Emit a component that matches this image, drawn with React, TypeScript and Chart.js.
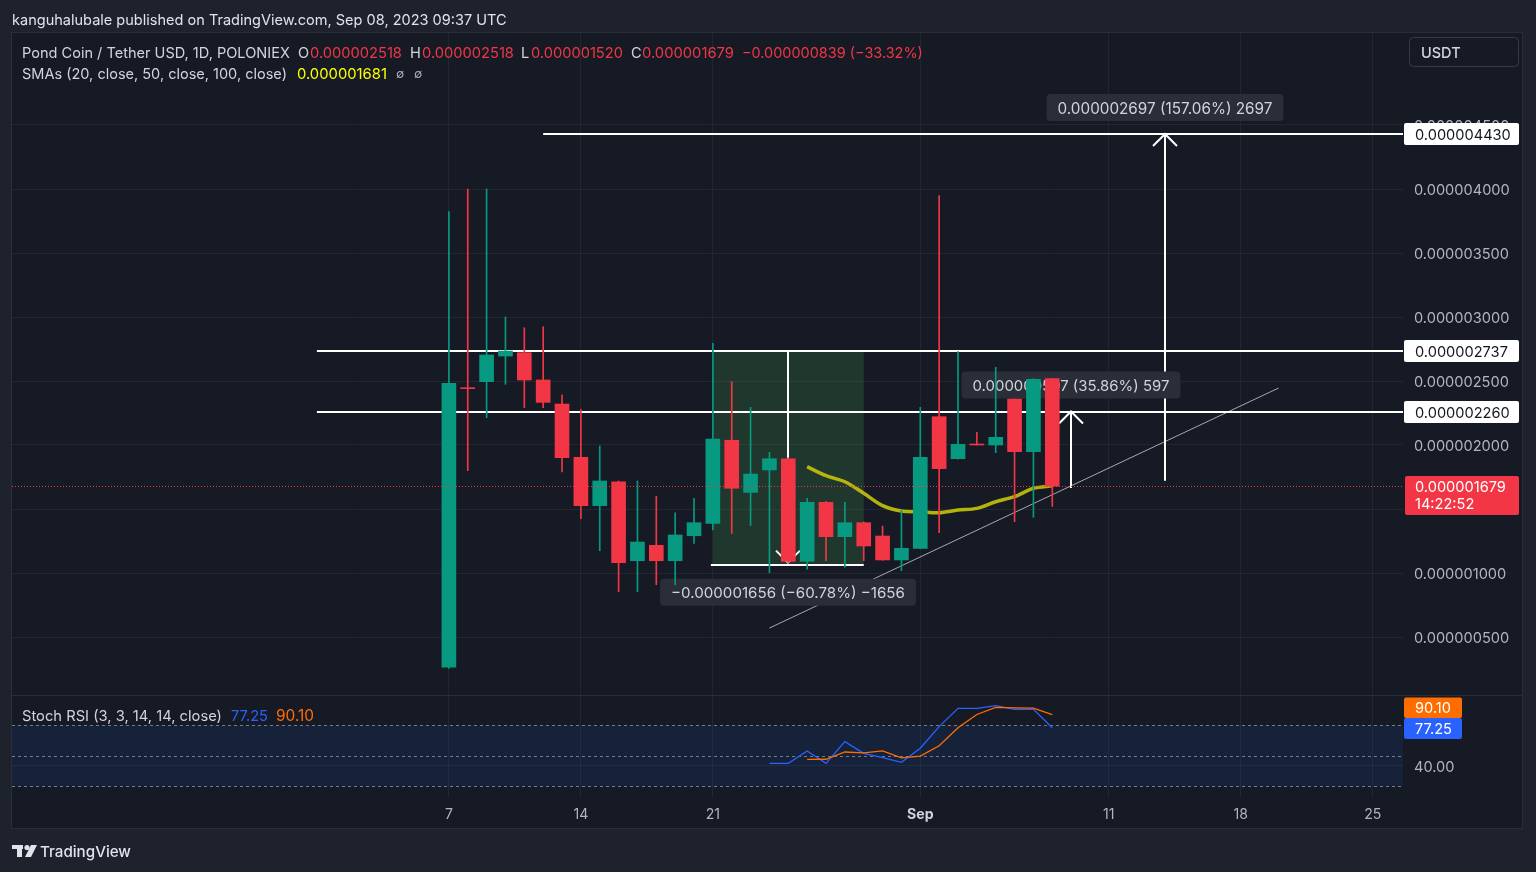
import React, { useEffect, useRef } from "react";
import { Chart, registerables } from "chart.js";

Chart.register(...registerables);

const FONT = "Inter, 'Noto Sans', 'DejaVu Sans', sans-serif";

// Daily candles: index 0 = 7 Aug 2023 ... index 32 = 8 Sep 2023. Prices in 1e-6 USDT.
const opens = [0.265, 2.445, 2.495, 2.695, 2.721, 2.508, 2.32, 1.904, 1.526, 1.713, 1.096, 1.216, 1.096, 1.291, 1.388, 2.037, 1.63, 1.805, 1.891, 1.091, 1.552, 1.284, 1.393, 1.289, 1.102, 1.193, 2.221, 1.893, 2.005, 2.0, 2.359, 1.948, 2.518];
const highs = [3.823, 4.0, 4.0, 3.0, 2.916, 2.924, 2.391, 2.279, 1.992, 1.719, 1.719, 1.599, 1.471, 1.584, 2.794, 2.495, 2.294, 1.943, 1.9, 1.584, 1.56, 1.552, 1.4, 1.367, 1.492, 2.294, 3.948, 2.729, 2.099, 2.607, 2.36, 2.518, 2.518];
const lows = [0.255, 1.8, 2.213, 2.474, 2.291, 2.291, 1.789, 1.424, 1.174, 0.854, 0.854, 0.909, 0.909, 1.232, 1.336, 1.31, 1.37, 1.002, 1.08, 1.029, 1.096, 1.045, 1.096, 1.1, 1.018, 1.19, 1.315, 1.89, 2.0, 1.94, 1.401, 1.435, 1.52];
const closes = [2.482, 2.44, 2.703, 2.734, 2.508, 2.333, 1.901, 1.526, 1.719, 1.081, 1.242, 1.096, 1.297, 1.393, 2.047, 1.662, 1.773, 1.893, 1.091, 1.552, 1.284, 1.393, 1.211, 1.102, 1.193, 1.904, 1.815, 2.005, 2.0, 2.06, 1.948, 2.513, 1.679];

// SMA 20 (starts at index 19 = 26 Aug)
const smaStart = 19;
const sma20 = [1.831, 1.76, 1.713, 1.623, 1.526, 1.484, 1.478, 1.471, 1.492, 1.505, 1.557, 1.596, 1.662, 1.681];

// Stoch RSI %K (starts index 17) and %D (starts index 19)
const stochKStart = 17;
const stochK = [42.5, 42.5, 54.6, 42.5, 63.7, 52.3, 48.0, 43.5, 57.2, 78.4, 96.3, 96.3, 98.9, 95.3, 95.3, 77.25];
const stochDStart = 19;
const stochD = [46.4, 46.5, 53.6, 52.8, 54.7, 47.9, 49.6, 59.7, 77.3, 90.3, 97.2, 96.8, 96.5, 90.1];

// Axis ticks
const timeTickDays = [0, 7, 14, 25, 35, 42, 49];
const timeTickLabels = ["7", "14", "21", "Sep", "11", "18", "25"];
const priceTicks = [0.5, 1, 1.5, 2, 2.5, 3, 3.5, 4, 4.5];
const stochTicks = [40];
const stochBands = [80, 50, 20];

// Drawings
const levelPrices = [4.43, 2.737, 2.26];
const levelStartDay = [5, -7, -7];
const rangeBoxDays = [14, 22];
const rangeBoxPrices = [2.737, 1.06];
const measureDay = [18, 33, 38];
const measureFrom = [2.737, 1.665, 1.72];
const measureTo = [1.081, 2.262, 4.43];
const measureLabels = ["−0.000001656 (−60.78%) −1656", "0.000000597 (35.86%) 597", "0.000002697 (157.06%) 2697"];
const trendDays = [17, 44];
const trendPrices = [0.57, 2.445];
const lastPrice = 1.679;
const countdown = "14:22:52";

// Texts
const headerTitle = "kanguhalubale published on TradingView.com, Sep 08, 2023 09:37 UTC";
const seriesName = "Pond Coin / Tether USD, 1D, POLONIEX";
const ohlcLetters = ["O", "H", "L", "C"];
const ohlcValues = ["0.000002518", "0.000002518", "0.000001520", "0.000001679"];
const changeText = "−0.000000839 (−33.32%)";
const smaTitle = "SMAs (20, close, 50, close, 100, close)";
const smaValue = "0.000001681";
const stochTitle = "Stoch RSI (3, 3, 14, 14, close)";
const stochValues = ["77.25", "90.10"];

const W = 1536;
const H = 872;
const OUTER = "#1e222d";
const BG = "#161a25";
const GRID = "rgba(42,46,57,0.6)";
const TEXT = "#d1d4dc";
const AXIS_TEXT = "#b2b5be";
const UP = "#089981";
const DOWN = "#f23645";
const BLUE = "#2962ff";
const ORANGE = "#ff6d00";

const X_MIN = -23.17;
const X_MAX = 50.6;
const P_MIN = 0.046875;
const P_MAX = 5.21875;
const S_MIN = 9.55;
const S_MAX = 109.35;

const TY = 1.5; // vertical nudge for middle-baseline text

const fmt = (p: number) => (p / 1e6).toFixed(9);

function fitFont(ctx: CanvasRenderingContext2D, s: string, width: number, weight = "400") {
  ctx.font = `${weight} 100px ${FONT}`;
  const m = ctx.measureText(s).width || 1;
  const size = Math.max(8, Math.min(24, (100 * width) / m));
  ctx.font = `${weight} ${size.toFixed(2)}px ${FONT}`;
  return size;
}

function drawText(
  ctx: CanvasRenderingContext2D,
  s: string,
  x: number,
  y: number,
  color: string,
  opts: { width?: number; size?: number; weight?: string; align?: CanvasTextAlign } = {}
) {
  const weight = opts.weight || "400";
  if (opts.width) fitFont(ctx, s, opts.width, weight);
  else ctx.font = `${weight} ${opts.size || 14}px ${FONT}`;
  ctx.fillStyle = color;
  ctx.textAlign = opts.align || "left";
  ctx.textBaseline = "middle";
  ctx.fillText(s, x, y + TY);
}

function rr(ctx: CanvasRenderingContext2D, x: number, y: number, w: number, h: number, r: number) {
  ctx.beginPath();
  (ctx as any).roundRect(x, y, w, h, r);
}

export default function App() {
  const ref = useRef<HTMLCanvasElement>(null);

  useEffect(() => {
    const canvas = ref.current!;
    const mctx = document.createElement("canvas").getContext("2d")!;
    mctx.font = `400 100px ${FONT}`;
    const tickSize = Math.round(((100 * 96) / mctx.measureText("0.000004000").width) * 10) / 10;

    const idx = opens.map((_, i) => i);
    const colors = opens.map((o, i) => (closes[i] >= o ? UP : DOWN));

    const overlay = {
      id: "tvOverlay",
      beforeDraw(chart: any) {
        const { ctx, chartArea, scales } = chart;
        ctx.save();
        ctx.fillStyle = OUTER;
        ctx.fillRect(0, 0, W, H);
        const fl = chartArea.left;
        const fr = scales.y.right;
        const ft = chartArea.top;
        const fb = scales.x.bottom;
        ctx.fillStyle = BG;
        ctx.fillRect(fl, ft, fr - fl, fb - ft);
        ctx.strokeStyle = "#2a2e39";
        ctx.lineWidth = 1;
        ctx.strokeRect(fl - 0.5, ft - 0.5, fr - fl + 1, fb - ft + 1);
        ctx.beginPath();
        ctx.moveTo(fl, Math.round(scales.y.bottom) + 0.5);
        ctx.lineTo(fr, Math.round(scales.y.bottom) + 0.5);
        ctx.stroke();
        ctx.restore();
      },
      beforeDatasetsDraw(chart: any) {
        const { ctx, chartArea, scales } = chart;
        const sx = (d: number) => scales.x.getPixelForValue(d);
        const sy = (p: number) => scales.y.getPixelForValue(p);
        const s2 = (v: number) => scales.y2.getPixelForValue(v);
        ctx.save();

        // Stoch RSI band
        ctx.fillStyle = "rgba(33,110,243,0.1)";
        ctx.fillRect(chartArea.left, s2(stochBands[0]), chartArea.right - chartArea.left, s2(stochBands[2]) - s2(stochBands[0]));
        ctx.strokeStyle = "#787b86";
        ctx.lineWidth = 1;
        ctx.setLineDash([3, 3]);
        stochBands.forEach((b) => {
          const y = Math.round(s2(b)) + 0.5;
          ctx.beginPath();
          ctx.moveTo(chartArea.left, y);
          ctx.lineTo(chartArea.right, y);
          ctx.stroke();
        });
        ctx.setLineDash([]);

        // Clip to price pane
        ctx.beginPath();
        ctx.rect(chartArea.left, scales.y.top, chartArea.right - chartArea.left, scales.y.bottom - scales.y.top);
        ctx.clip();

        // Range box fill
        const bx0 = sx(rangeBoxDays[0]);
        const bx1 = sx(rangeBoxDays[1]);
        const by0 = sy(rangeBoxPrices[0]);
        const by1 = sy(rangeBoxPrices[1]);
        ctx.fillStyle = "rgba(76,175,80,0.2)";
        ctx.fillRect(bx0, by0, bx1 - bx0, by1 - by0);

        // Trend line
        ctx.strokeStyle = "rgba(190,193,202,0.85)";
        ctx.lineWidth = 1;
        ctx.beginPath();
        ctx.moveTo(sx(trendDays[0]), sy(trendPrices[0]));
        ctx.lineTo(sx(trendDays[1]), sy(trendPrices[1]));
        ctx.stroke();

        // Horizontal levels
        ctx.strokeStyle = "#ffffff";
        ctx.lineWidth = 2;
        levelPrices.forEach((p, i) => {
          const y = Math.round(sy(p));
          ctx.beginPath();
          ctx.moveTo(sx(levelStartDay[i]), y);
          ctx.lineTo(chartArea.right, y);
          ctx.stroke();
        });
        // range box edges
        [by0, by1].forEach((y) => {
          ctx.beginPath();
          ctx.moveTo(bx0 - 2, Math.round(y));
          ctx.lineTo(bx1, Math.round(y));
          ctx.stroke();
        });

        // Measure arrows + labels
        measureDay.forEach((d, i) => {
          const x = Math.round(sx(d));
          const yA = sy(measureFrom[i]);
          const yB = sy(measureTo[i]);
          const up = yB < yA;
          ctx.strokeStyle = "#ffffff";
          ctx.lineWidth = 2;
          ctx.beginPath();
          ctx.moveTo(x, yA);
          ctx.lineTo(x, yB);
          ctx.stroke();
          const dir = up ? 1 : -1;
          ctx.beginPath();
          ctx.moveTo(x - 12, yB + dir * 12);
          ctx.lineTo(x, yB);
          ctx.lineTo(x + 12, yB + dir * 12);
          ctx.stroke();
        });
        const labelWidths = [234, 197, 215];
        measureDay.forEach((d, i) => {
          const x = Math.round(sx(d));
          const yA = sy(measureFrom[i]);
          const yB = sy(measureTo[i]);
          const up = yB < yA;
          fitFont(ctx, measureLabels[i], labelWidths[i]);
          const tw = ctx.measureText(measureLabels[i]).width;
          const bw = tw + 22;
          const h = 27;
          const top = up ? yB - 13 - h : yB + 16;
          ctx.fillStyle = "#2a2e39";
          rr(ctx, x - bw / 2, top, bw, h, 4);
          ctx.fill();
          ctx.fillStyle = TEXT;
          ctx.textAlign = "center";
          ctx.textBaseline = "middle";
          ctx.fillText(measureLabels[i], x, top + h / 2 + TY);
        });
        ctx.restore();
      },
      afterDatasetsDraw(chart: any) {
        const { ctx, chartArea, scales } = chart;
        ctx.save();
        const y = Math.round(scales.y.getPixelForValue(lastPrice)) + 0.5;
        ctx.strokeStyle = DOWN;
        ctx.lineWidth = 1;
        ctx.setLineDash([1, 2]);
        ctx.beginPath();
        ctx.moveTo(chartArea.left, y);
        ctx.lineTo(chartArea.right, y);
        ctx.stroke();
        ctx.restore();
      },
      afterDraw(chart: any) {
        const { ctx, scales } = chart;
        const ys = scales.y;
        const y2 = scales.y2;
        const axL = ys.left;
        ctx.save();

        // Level labels on price axis
        levelPrices.forEach((p) => {
          const y = Math.round(ys.getPixelForValue(p));
          ctx.fillStyle = "#ffffff";
          rr(ctx, axL + 1, y - 11, 115, 22, 2);
          ctx.fill();
          drawText(ctx, fmt(p), axL + 12, y, "#131722", { size: tickSize });
        });
        // Last price label
        const yl = Math.round(ys.getPixelForValue(lastPrice));
        ctx.fillStyle = DOWN;
        rr(ctx, axL + 2, yl - 10, 114, 39, 2);
        ctx.fill();
        drawText(ctx, fmt(lastPrice), axL + 12, yl + 0.5, "#ffffff", { size: tickSize });
        drawText(ctx, countdown, axL + 12, yl + 17.5, "#ffffff", { size: tickSize });

        // Stoch labels
        const yk = Math.round(y2.getPixelForValue(stochK[stochK.length - 1]));
        const bTop = yk - 10;
        ctx.fillStyle = BLUE;
        rr(ctx, axL + 1, bTop, 58, 21, 2);
        ctx.fill();
        drawText(ctx, stochValues[0], axL + 12, bTop + 10, "#ffffff", { size: tickSize });
        ctx.fillStyle = ORANGE;
        rr(ctx, axL + 1, bTop - 20.5, 58, 20.5, 2);
        ctx.fill();
        drawText(ctx, stochValues[1], axL + 12, bTop - 10.5, "#ffffff", { size: tickSize });

        // USDT box
        ctx.strokeStyle = "#363a45";
        ctx.lineWidth = 1;
        rr(ctx, axL + 6.5, 37.5, 109, 29, 4);
        ctx.stroke();
        drawText(ctx, "USDT", axL + 18, 52.5, TEXT, { size: 14.5, weight: "500" });

        // Header
        drawText(ctx, headerTitle, 12, 19, "#e0e3eb", { width: 495 });
        // Legend line 1
        const nameSize = fitFont(ctx, seriesName, 268);
        drawText(ctx, seriesName, 22, 52, TEXT, { width: 268 });
        const lx = [298, 410, 521, 631];
        const vx = [310, 422, 531, 642];
        ohlcLetters.forEach((l, i) => {
          drawText(ctx, l, lx[i], 52, TEXT, { size: nameSize });
          drawText(ctx, ohlcValues[i], vx[i], 52, DOWN, { width: 92 });
        });
        drawText(ctx, changeText, 742, 52, DOWN, { width: 181 });
        // Legend line 2
        drawText(ctx, smaTitle, 22, 73, TEXT, { width: 265 });
        drawText(ctx, smaValue, 297, 73, "#ffff00", { width: 90 });
        drawText(ctx, "∅", 396, 73, AXIS_TEXT, { size: 12 });
        drawText(ctx, "∅", 414, 73, AXIS_TEXT, { size: 12 });
        // Stoch legend
        drawText(ctx, stochTitle, 22, 715, TEXT, { width: 200 });
        drawText(ctx, stochValues[0], 231, 715, BLUE, { width: 37 });
        drawText(ctx, stochValues[1], 276, 715, ORANGE, { width: 38 });

        // Footer logo
        ctx.fillStyle = "#e0e3eb";
        ctx.fillRect(12, 845, 11, 4);
        ctx.fillRect(17, 845, 5, 12);
        ctx.beginPath();
        ctx.arc(27, 847.5, 2.6, 0, Math.PI * 2);
        ctx.fill();
        ctx.beginPath();
        ctx.moveTo(31, 845);
        ctx.lineTo(37, 845);
        ctx.lineTo(31, 857);
        ctx.lineTo(25, 857);
        ctx.closePath();
        ctx.fill();
        drawText(ctx, "TradingView", 40, 851, "#e0e3eb", { width: 91, weight: "500" });
        ctx.restore();
      },
    };

    const chart = new Chart(canvas, {
      type: "bar",
      data: {
        datasets: [
          {
            type: "bar",
            label: "body",
            data: idx.map((i) => ({ x: i, y: [opens[i], closes[i]] })) as any,
            backgroundColor: colors,
            borderWidth: 0,
            barThickness: 14,
            minBarLength: 1,
            grouped: false,
            order: 1,
            xAxisID: "x",
            yAxisID: "y",
          } as any,
          {
            type: "bar",
            label: "wick",
            data: idx.map((i) => ({ x: i, y: [lows[i], highs[i]] })) as any,
            backgroundColor: colors,
            borderWidth: 0,
            barThickness: 1,
            grouped: false,
            order: 2,
            xAxisID: "x",
            yAxisID: "y",
          } as any,
          {
            type: "line",
            label: "SMA 20",
            data: sma20.map((v, k) => ({ x: smaStart + k, y: v })),
            borderColor: "rgba(196,196,10,0.9)",
            borderWidth: 3.5,
            pointRadius: 0,
            tension: 0.3,
            order: 3,
            xAxisID: "x",
            yAxisID: "y",
          } as any,
          {
            type: "line",
            label: "%D",
            data: stochD.map((v, k) => ({ x: stochDStart + k, y: v })),
            borderColor: ORANGE,
            borderWidth: 1.3,
            pointRadius: 0,
            order: 0,
            xAxisID: "x",
            yAxisID: "y2",
          } as any,
          {
            type: "line",
            label: "%K",
            data: stochK.map((v, k) => ({ x: stochKStart + k, y: v })),
            borderColor: BLUE,
            borderWidth: 1.3,
            pointRadius: 0,
            order: 0,
            xAxisID: "x",
            yAxisID: "y2",
          } as any,
        ],
      },
      options: {
        responsive: false,
        devicePixelRatio: 1,
        animation: false,
        events: [],
        layout: { padding: { top: 33, left: 12, right: 14, bottom: 44 } },
        plugins: { legend: { display: false }, tooltip: { enabled: false }, title: { display: false } },
        scales: {
          x: {
            type: "linear",
            position: "bottom",
            min: X_MIN,
            max: X_MAX,
            offset: false,
            afterFit: (s: any) => {
              s.height = 31;
            },
            afterBuildTicks: (s: any) => {
              s.ticks = timeTickDays.map((v) => ({ value: v }));
            },
            ticks: {
              autoSkip: false,
              maxRotation: 0,
              padding: 9,
              color: (c: any) => (c.index === 3 ? TEXT : AXIS_TEXT),
              font: (c: any) => ({ family: FONT, size: tickSize - 0.5, weight: c.index === 3 ? "bold" : "normal" }),
              callback: (_v: any, i: number) => timeTickLabels[i],
            },
            grid: { color: GRID, drawTicks: false, offset: false },
            border: { display: false },
          } as any,
          y: {
            type: "linear",
            position: "right",
            stack: "pane",
            stackWeight: 662,
            min: P_MIN,
            max: P_MAX,
            beginAtZero: false,
            afterFit: (s: any) => {
              s.width = 119;
            },
            afterBuildTicks: (s: any) => {
              s.ticks = priceTicks.map((v) => ({ value: v }));
            },
            ticks: {
              crossAlign: "near",
              padding: 11,
              labelOffset: 1.5,
              color: AXIS_TEXT,
              font: { family: FONT, size: tickSize },
              callback: (v: any) => fmt(Number(v)),
            },
            grid: { color: GRID, drawTicks: false },
            border: { display: false },
          } as any,
          y2: {
            type: "linear",
            position: "right",
            stack: "pane",
            stackWeight: 102,
            min: S_MIN,
            max: S_MAX,
            beginAtZero: false,
            afterFit: (s: any) => {
              s.width = 119;
            },
            afterBuildTicks: (s: any) => {
              s.ticks = stochTicks.map((v) => ({ value: v }));
            },
            ticks: {
              crossAlign: "near",
              padding: 11,
              labelOffset: 1.5,
              color: AXIS_TEXT,
              font: { family: FONT, size: tickSize },
              callback: (v: any) => Number(v).toFixed(2),
            },
            grid: { color: GRID, drawTicks: false },
            border: { display: false },
          } as any,
        },
      },
      plugins: [overlay],
    });
    return () => chart.destroy();
  }, []);

  return (
    <div style={{ position: "fixed", left: 0, top: 0, width: W, height: H, background: OUTER }}>
      <canvas ref={ref} width={W} height={H} style={{ display: "block", width: W, height: H }} />
    </div>
  );
}
